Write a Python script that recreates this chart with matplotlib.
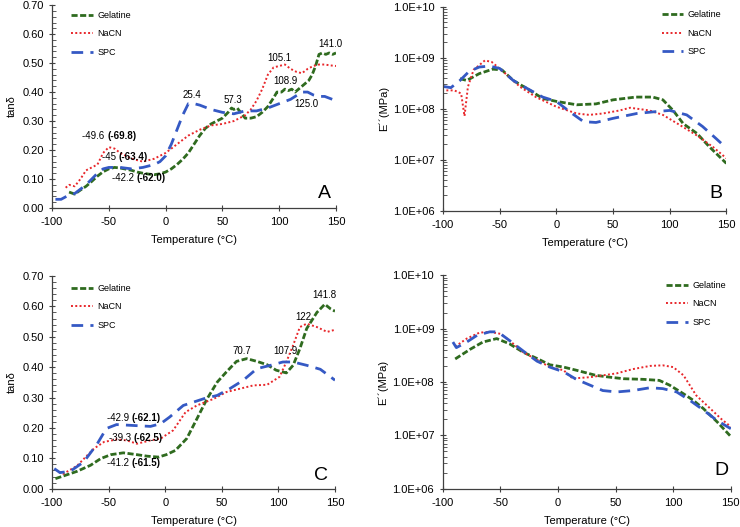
import numpy as np
import matplotlib
matplotlib.use("Agg")
import matplotlib.pyplot as plt
from matplotlib.ticker import MultipleLocator, LogLocator, FixedLocator, NullFormatter

plt.rcParams["font.family"] = ["Liberation Sans", "DejaVu Sans"]
plt.rcParams["axes.unicode_minus"] = False

# ---- data: tan delta, panel A ----
gel_a_t = [-85, -80, -75, -70, -65, -60, -55, -50, -45, -40, -35, -30, -25, -20, -15, -10, -5, 0, 5, 10, 15, 20, 25,
           30, 35, 40, 45, 50, 55, 58, 60, 63, 66, 70, 75, 80, 85, 90, 95, 98, 102, 105, 108, 111, 114, 117, 120, 123,
           126, 129, 132, 135, 138, 141, 144, 147, 150]
gel_a_v = [0.055, 0.048, 0.062, 0.075, 0.092, 0.11, 0.125, 0.135, 0.14, 0.138, 0.134, 0.13, 0.124, 0.12, 0.117, 0.115,
           0.118, 0.124, 0.135, 0.15, 0.168, 0.19, 0.22, 0.25, 0.275, 0.29, 0.30, 0.31, 0.33, 0.345, 0.34, 0.345, 0.33,
           0.31, 0.31, 0.315, 0.33, 0.35, 0.38, 0.40, 0.40, 0.41, 0.405, 0.41, 0.40, 0.41, 0.42, 0.43, 0.44, 0.46,
           0.49, 0.53, 0.535, 0.53, 0.535, 0.53, 0.535]
nacn_a_t = [-88, -85, -80, -75, -70, -65, -60, -55, -50, -45, -40, -35, -30, -25, -20, -15, -10, -5, 0, 5, 10, 20, 30,
            40, 50, 60, 70, 75, 80, 85, 90, 95, 100, 105, 110, 115, 120, 125, 130, 135, 140, 145, 150]
nacn_a_v = [0.07, 0.08, 0.075, 0.10, 0.13, 0.14, 0.15, 0.19, 0.21, 0.205, 0.19, 0.18, 0.17, 0.165, 0.16, 0.165, 0.17,
            0.18, 0.19, 0.205, 0.22, 0.25, 0.27, 0.285, 0.29, 0.30, 0.32, 0.34, 0.37, 0.41, 0.46, 0.485, 0.49, 0.495,
            0.48, 0.47, 0.465, 0.48, 0.49, 0.495, 0.495, 0.492, 0.49]
spc_a_t = [-97, -92, -85, -80, -70, -60, -55, -50, -40, -30, -20, -10, -5, 0, 5, 10, 15, 20, 25, 30, 40, 50, 60, 70,
           80, 90, 100, 110, 120, 125, 130, 135, 140, 150]
spc_a_v = [0.03, 0.03, 0.045, 0.05, 0.08, 0.12, 0.135, 0.14, 0.14, 0.135, 0.14, 0.15, 0.16, 0.18, 0.22, 0.27, 0.32,
           0.36, 0.36, 0.355, 0.34, 0.33, 0.325, 0.335, 0.335, 0.345, 0.36, 0.375, 0.40, 0.40, 0.39, 0.385, 0.385, 0.37]

# ---- data: E'' (MPa), panel B ----
gel_b_t = [-85, -79, -68, -56, -48, -38, -26, -12, 0, 18, 35, 50, 70, 85, 94, 103, 112, 124, 135, 150]
gel_b_v = [3.9e8, 3.6e8, 4.9e8, 6.0e8, 5.8e8, 3.6e8, 2.5e8, 1.6e8, 1.4e8, 1.2e8, 1.25e8, 1.5e8, 1.7e8, 1.7e8,
           1.5e8, 9.3e7, 5.1e7, 3.3e7, 1.8e7, 8.5e6]
nacn_b_t = [-97, -90, -84, -81, -78, -73, -63, -57, -47, -32, -18, 0, 18, 29, 41, 56, 65, 82, 94, 109, 124, 138, 150]
nacn_b_v = [2.3e8, 2.3e8, 2.0e8, 7.2e7, 2.7e8, 5.8e8, 8.9e8, 8.3e8, 5.4e8, 2.7e8, 1.7e8, 1.1e8, 8.1e7, 7.6e7,
            8.1e7, 9.3e7, 1.05e8, 9.3e7, 7.6e7, 4.8e7, 3.0e7, 1.8e7, 1.07e7]
spc_b_t = [-100, -93, -85, -77, -68, -59, -50, -38, -27, -12, 0, 12, 24, 35, 50, 71, 85, 100, 115, 129, 141, 150]
spc_b_v = [2.75e8, 2.6e8, 3.6e8, 5.4e8, 6.6e8, 6.9e8, 6.2e8, 3.6e8, 2.6e8, 1.7e8, 1.4e8, 8.7e7, 5.6e7, 5.4e7,
           6.5e7, 8.1e7, 8.7e7, 9.3e7, 7.6e7, 4.5e7, 2.6e7, 1.7e7]

# ---- data: tan delta, panel C ----
gel_c_t = [-97, -78, -66, -57, -48, -37, -25, -16, -6, 1, 9, 19, 28, 37, 46, 54, 63, 72, 81, 90, 98, 107, 113, 119,
           125, 134, 141, 146, 150]
gel_c_v = [0.033, 0.057, 0.077, 0.099, 0.112, 0.118, 0.112, 0.107, 0.104, 0.112, 0.126, 0.165, 0.23, 0.296, 0.351,
           0.384, 0.419, 0.428, 0.419, 0.408, 0.39, 0.381, 0.406, 0.461, 0.527, 0.58, 0.607, 0.592, 0.584]
nacn_c_t = [-94, -90, -78, -63, -54, -43, -34, -25, -13, -4, 7, 18, 28, 43, 54, 66, 78, 90, 101, 107, 113, 119, 125,
            134, 143, 150]
nacn_c_v = [0.055, 0.049, 0.075, 0.132, 0.154, 0.162, 0.159, 0.148, 0.159, 0.165, 0.192, 0.252, 0.274, 0.296, 0.318,
            0.329, 0.34, 0.342, 0.368, 0.417, 0.472, 0.532, 0.543, 0.532, 0.516, 0.523]
spc_c_t = [-98, -93, -84, -72, -60, -52, -43, -28, -13, -4, 4, 16, 25, 34, 46, 57, 69, 81, 93, 104, 113, 125, 137, 150]
spc_c_v = [0.066, 0.053, 0.057, 0.088, 0.148, 0.198, 0.211, 0.208, 0.205, 0.214, 0.236, 0.274, 0.285, 0.296, 0.307,
           0.329, 0.357, 0.395, 0.406, 0.417, 0.417, 0.406, 0.393, 0.357]

# ---- data: E'' (MPa), panel D ----
gel_d_t = [-89, -76, -65, -53, -42, -30, -18, -7, 5, 16, 33, 45, 57, 74, 88, 97, 109, 117, 126, 138, 150]
gel_d_v = [2.7e8, 4.1e8, 5.6e8, 6.5e8, 5.2e8, 3.6e8, 2.75e8, 2.1e8, 1.9e8, 1.66e8, 1.33e8, 1.23e8, 1.15e8,
           1.12e8, 1.07e8, 8.7e7, 6.0e7, 4.6e7, 3.2e7, 1.8e7, 9.5e6]
nacn_d_t = [-89, -79, -68, -59, -50, -42, -30, -18, -7, 5, 13, 19, 28, 39, 51, 65, 80, 91, 100, 109, 120, 132, 142,
            150]
nacn_d_v = [4.6e8, 6.5e8, 8.4e8, 8.7e8, 8.0e8, 6.0e8, 3.6e8, 2.6e8, 1.9e8, 1.66e8, 1.15e8, 1.19e8, 1.23e8, 1.33e8,
            1.45e8, 1.74e8, 2.0e8, 2.05e8, 1.9e8, 1.33e8, 5.6e7, 3.2e7, 2.0e7, 1.45e7]
spc_d_t = [-91, -88, -79, -70, -59, -52, -42, -30, -18, -7, 5, 16, 28, 39, 51, 65, 80, 91, 103, 114, 126, 138, 150]
spc_d_v = [5.6e8, 4.4e8, 5.6e8, 7.5e8, 8.7e8, 8.7e8, 6.0e8, 3.8e8, 2.45e8, 1.9e8, 1.55e8, 1.12e8, 8.7e7, 6.9e7,
           6.5e7, 6.9e7, 7.8e7, 7.5e7, 6.5e7, 4.6e7, 3.0e7, 1.9e7, 1.33e7]

# peak labels (text, T, y)
peaks_a = [("141.0", 145, 0.565), ("105.1", 100, 0.519), ("108.9", 105.7, 0.439), ("125.0", 124, 0.360),
           ("57.3", 59, 0.374), ("25.4", 23, 0.391)]
peaks_c = [("141.8", 141, 0.636), ("122", 122, 0.565), ("70.7", 68, 0.452), ("107.9", 106, 0.452)]
# low temp labels (normal part, bold part, left T, y)
low_a = [("-49.6 ", "(-69.8)", -73.6, 0.2475), ("-45 ", "(-63.4)", -56, 0.176), ("-42.2 ", "(-62.0)", -47, 0.104)]
low_c = [("-42.9 ", "(-62.1)", -51.5, 0.234), ("-39.3 ", "(-62.5)", -50, 0.168), ("-41.2 ", "(-61.5)", -51.5, 0.083)]

GEL = "#2f6b1f"
RED = "#e8272b"
BLUE = "#3559c4"


def draw_lines(ax, gel, nacn, spc):
    ax.plot(*gel, color=GEL, lw=2.0, dashes=(2.2, 0.9), label="Gelatine")
    ax.plot(*nacn, color=RED, lw=1.4, dashes=(1, 1.2), label="NaCN")
    ax.plot(*spc, color=BLUE, lw=2.0, dashes=(4.2, 2.6), label="SPC")


def style_axes(ax, log=False):
    for s in ["top", "right"]:
        ax.spines[s].set_visible(False)
    for s in ["left", "bottom"]:
        ax.spines[s].set_color("#404040")
        ax.spines[s].set_linewidth(0.9)
    ax.set_xlim(-100, 150)
    ax.xaxis.set_major_locator(MultipleLocator(50))
    ax.tick_params(axis="both", which="major", direction="inout", length=5, width=0.8,
                   colors="#404040", labelcolor="black", labelsize=8)
    ax.tick_params(axis="y", which="minor", direction="in", length=3, width=0.6, colors="#404040")
    ax.tick_params(axis="x", pad=4)
    ax.set_xlabel("Temperature (°C)", fontsize=8, labelpad=6)
    if log:
        ax.set_yscale("log")
        ax.set_ylim(1e6, 1e10)
        ax.yaxis.set_major_locator(FixedLocator([1e6, 1e7, 1e8, 1e9, 1e10]))
        ax.yaxis.set_minor_locator(LogLocator(base=10, subs=np.arange(2, 10)))
        ax.yaxis.set_minor_formatter(NullFormatter())
        ax.set_yticklabels(["1.0E+06", "1.0E+07", "1.0E+08", "1.0E+09", "1.0E+10"])
        ax.set_ylabel("E´´(MPa)", fontsize=8)
    else:
        ax.set_ylim(0, 0.70)
        ax.yaxis.set_major_locator(MultipleLocator(0.1))
        ax.yaxis.set_minor_locator(MultipleLocator(0.02))
        ax.yaxis.set_major_formatter(plt.FuncFormatter(lambda v, p: f"{v:.2f}"))
        ax.set_ylabel("tanδ", fontsize=8)


def add_legend(ax, loc, anchor):
    ax.legend(loc=loc, bbox_to_anchor=anchor, frameon=False, fontsize=6.5, handlelength=2.4,
              handletextpad=0.5, labelspacing=1.05, borderaxespad=0)


def add_low_labels(ax, items):
    for norm, bold, x, y in items:
        t1 = ax.text(x, y, norm, fontsize=7, ha="left", va="center")
        ax.annotate(bold, xy=(1, 0.5), xycoords=t1, va="center", ha="left", fontsize=7, fontweight="bold")


fig = plt.figure(figsize=(7.4, 5.27), dpi=100)

ax_a = fig.add_axes([0.0703, 0.6053, 0.3838, 0.385])
ax_b = fig.add_axes([0.5986, 0.600, 0.383, 0.387])
ax_c = fig.add_axes([0.0703, 0.0727, 0.3824, 0.4036])
ax_d = fig.add_axes([0.598, 0.0727, 0.3896, 0.405])

# A
draw_lines(ax_a, (gel_a_t, gel_a_v), (nacn_a_t, nacn_a_v), (spc_a_t, spc_a_v))
style_axes(ax_a)
add_legend(ax_a, "upper left", (0.055, 0.99))
for s, x, y in peaks_a:
    ax_a.text(x, y, s, fontsize=7, ha="center", va="center")
add_low_labels(ax_a, low_a)
ax_a.text(140, 0.05, "A", fontsize=14, ha="center", va="center")
ax_a.yaxis.set_label_coords(-0.125, 0.5)

# B
draw_lines(ax_b, (gel_b_t, gel_b_v), (nacn_b_t, nacn_b_v), (spc_b_t, spc_b_v))
style_axes(ax_b, log=True)
add_legend(ax_b, "upper right", (0.995, 1.0))
ax_b.text(141, 2.2e6, "B", fontsize=14, ha="center", va="center")
ax_b.yaxis.set_label_coords(-0.19, 0.5)

# C
draw_lines(ax_c, (gel_c_t, gel_c_v), (nacn_c_t, nacn_c_v), (spc_c_t, spc_c_v))
style_axes(ax_c)
add_legend(ax_c, "upper left", (0.055, 0.98))
for s, x, y in peaks_c:
    ax_c.text(x, y, s, fontsize=7, ha="center", va="center")
add_low_labels(ax_c, low_c)
ax_c.text(138, 0.044, "C", fontsize=14, ha="center", va="center")
ax_c.yaxis.set_label_coords(-0.125, 0.5)

# D
draw_lines(ax_d, (gel_d_t, gel_d_v), (nacn_d_t, nacn_d_v), (spc_d_t, spc_d_v))
style_axes(ax_d, log=True)
add_legend(ax_d, "upper right", (0.995, 0.99))
ax_d.text(142, 2.2e6, "D", fontsize=14, ha="center", va="center")
ax_d.yaxis.set_label_coords(-0.19, 0.5)

fig.savefig("out.png", dpi=100)
